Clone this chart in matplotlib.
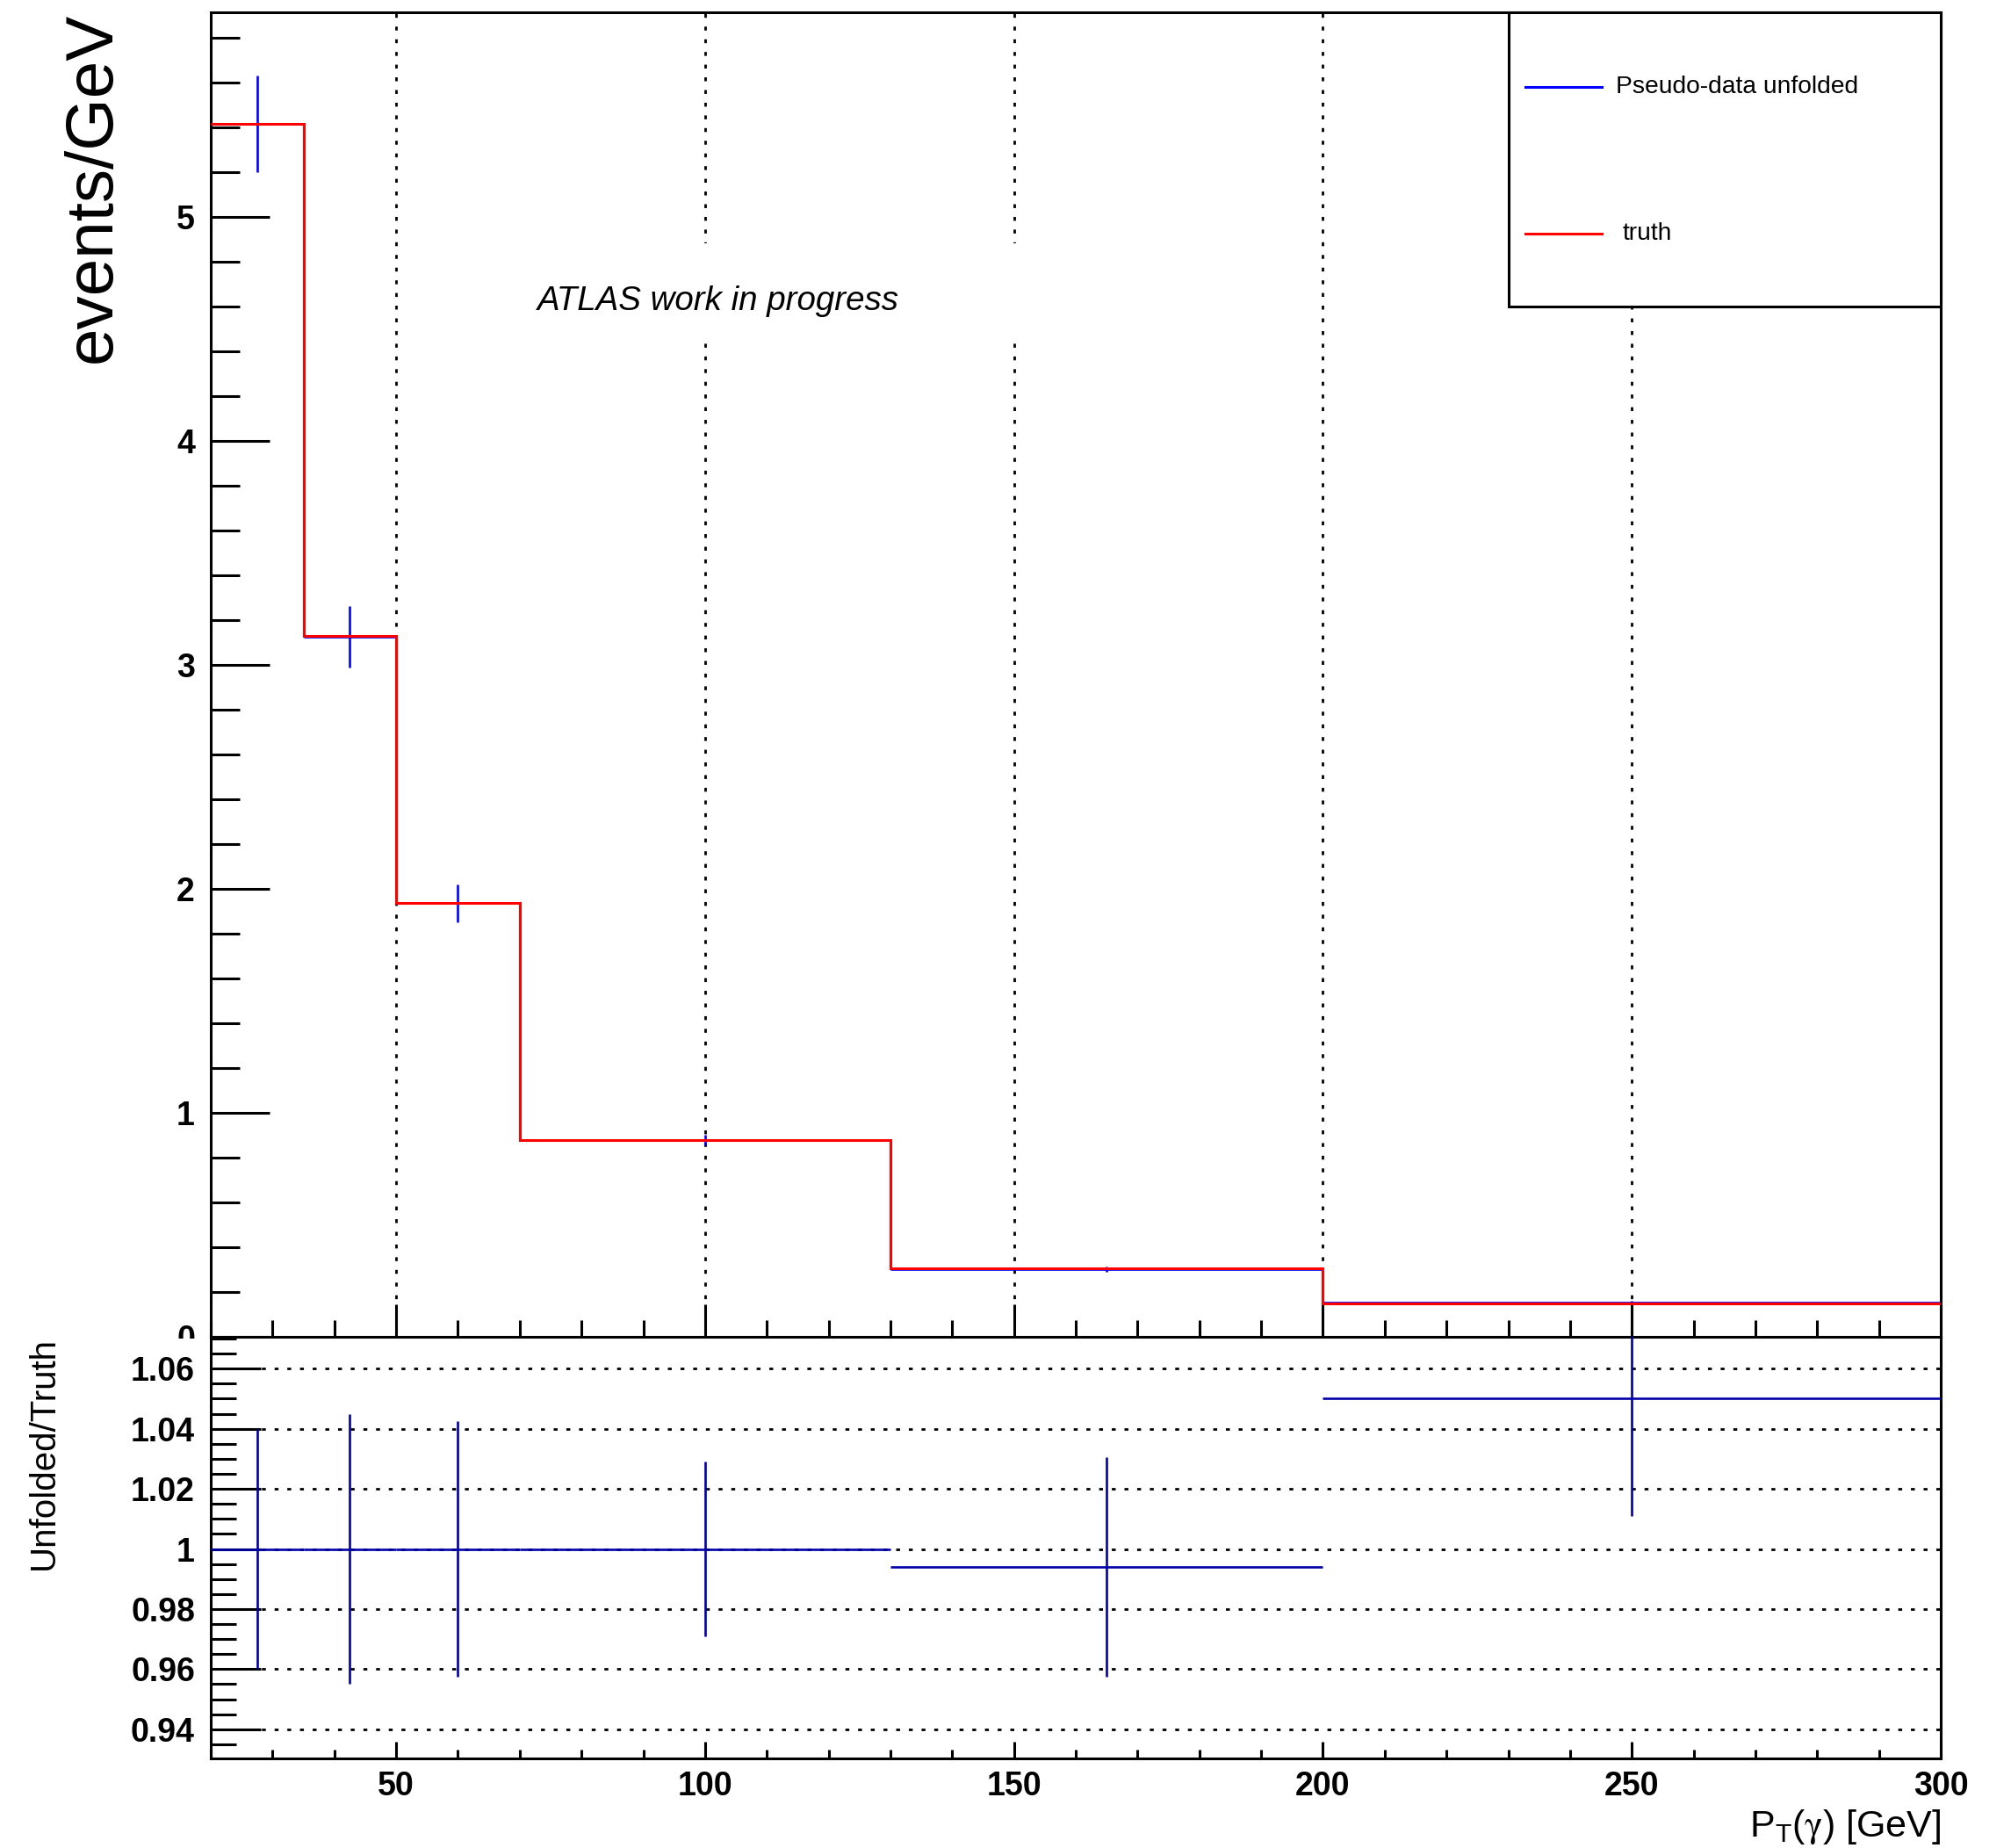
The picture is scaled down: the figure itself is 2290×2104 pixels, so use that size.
import matplotlib
matplotlib.use("Agg")
import matplotlib.pyplot as plt
import numpy as np
from matplotlib.patches import Rectangle
from matplotlib.lines import Line2D
from matplotlib.ticker import MultipleLocator, FormatStrFormatter

plt.rcParams["font.family"] = ["Liberation Sans", "DejaVu Sans"]
plt.rcParams["mathtext.fontset"] = "custom"
plt.rcParams["mathtext.rm"] = "Liberation Sans"
plt.rcParams["mathtext.sf"] = "STIXGeneral"

# binning in pT(gamma) [GeV]
edges = np.array([20, 35, 50, 70, 130, 200, 300])

# events/GeV
truth = [5.416, 3.128, 1.938, 0.879, 0.305, 0.148]
unfolded = [5.416, 3.126, 1.936, 0.879, 0.303, 0.155]
unfolded_err = [0.215, 0.139, 0.083, 0.024, 0.011, 0.006]

# unfolded / truth
ratio = [1.0, 1.0, 1.0, 1.0, 0.994, 1.050]
ratio_err = [0.040, 0.045, 0.0425, 0.029, 0.0365, 0.039]

centers = (edges[:-1] + edges[1:]) / 2
half = (edges[1:] - edges[:-1]) / 2

dotted = (0, (1.6, 3.6))
lw = 2.2

fig = plt.figure(figsize=(22.9, 21.04), dpi=100)
ax = fig.add_axes([0.1048, 0.2766, 0.8603, 0.7167])
rax = fig.add_axes([0.1048, 0.0485, 0.8603, 0.2281])

# ---- top panel
ax.errorbar(centers, unfolded, xerr=half, yerr=unfolded_err, fmt="none",
            ecolor="blue", elinewidth=1.9, zorder=2)
ax.stairs(truth, edges, baseline=None, color="red", linewidth=lw, zorder=3)

ax.set_xlim(20, 300)
ax.set_ylim(0, 5.914)
ax.xaxis.set_major_locator(MultipleLocator(50))
ax.xaxis.set_minor_locator(MultipleLocator(10))
ax.yaxis.set_major_locator(MultipleLocator(1))
ax.yaxis.set_minor_locator(MultipleLocator(0.2))
ax.grid(axis="x", which="major", color="black", linestyle=dotted, linewidth=2.0)

ax.tick_params(which="both", direction="in", top=False, right=False,
               labelbottom=False, width=lw, labelsize=27, pad=13)
ax.tick_params(axis="y", which="major", length=48)
ax.tick_params(axis="y", which="minor", length=24)
ax.tick_params(axis="x", which="major", length=27)
ax.tick_params(axis="x", which="minor", length=14)
plt.setp(ax.get_yticklabels(), fontweight="bold")
for s in ax.spines.values():
    s.set_linewidth(lw)

ax.set_ylabel("events/GeV", fontsize=55, loc="top")
ax.yaxis.set_label_coords(-0.050, 1.0)

# white box behind the label text
ax.add_patch(Rectangle((0.162, 0.750), 0.346, 0.0756, transform=ax.transAxes,
                       facecolor="white", edgecolor="none", zorder=1.8))
ax.text(0.1888, 0.7752, "ATLAS work in progress", transform=ax.transAxes,
        fontsize=27.7, style="italic", va="baseline", ha="left", zorder=5)

# legend box
ax.add_patch(Rectangle((0.75, 0.778), 0.25, 0.222, transform=ax.transAxes,
                       facecolor="white", edgecolor="black", linewidth=lw,
                       zorder=6, clip_on=False))
ax.add_line(Line2D([0.7599, 0.8041], [0.9436, 0.9436], transform=ax.transAxes,
                   color="blue", linewidth=lw, zorder=7))
ax.add_line(Line2D([0.7599, 0.8041], [0.8329, 0.8329], transform=ax.transAxes,
                   color="red", linewidth=lw, zorder=7))
ax.text(0.8122, 0.9436, "Pseudo-data unfolded", transform=ax.transAxes,
        fontsize=20.3, va="center", ha="left", zorder=7)
ax.text(0.8162, 0.8329, "truth", transform=ax.transAxes,
        fontsize=20.3, va="center", ha="left", zorder=7)

# ---- ratio panel
rax.errorbar(centers, ratio, xerr=half, yerr=ratio_err, fmt="none",
             ecolor="#0000a8", elinewidth=1.9, zorder=3)
rax.set_xlim(20, 300)
rax.set_ylim(0.9303, 1.0706)
rax.xaxis.set_major_locator(MultipleLocator(50))
rax.xaxis.set_minor_locator(MultipleLocator(10))
rax.yaxis.set_major_locator(MultipleLocator(0.02))
rax.yaxis.set_minor_locator(MultipleLocator(0.005))
rax.yaxis.set_major_formatter(FormatStrFormatter("%g"))
rax.grid(axis="y", which="major", color="black", linestyle=dotted, linewidth=2.0)

rax.tick_params(which="both", direction="in", top=False, right=False,
                width=lw, labelsize=27)
rax.tick_params(axis="y", which="major", length=41, pad=13)
rax.tick_params(axis="y", which="minor", length=21)
rax.tick_params(axis="x", which="major", length=14, pad=10)
rax.tick_params(axis="x", which="minor", length=7)
plt.setp(rax.get_yticklabels(), fontweight="bold")
plt.setp(rax.get_xticklabels(), fontweight="bold")
for s in rax.spines.values():
    s.set_linewidth(lw)

rax.set_ylabel("Unfolded/Truth", fontsize=29, loc="top")
rax.yaxis.set_label_coords(-0.087, 1.0)
rax.set_xlabel(r"P$_{\mathregular{T}}$($\mathsf{\gamma}$) [GeV]", fontsize=31, loc="right")
rax.xaxis.label.set_va("baseline")
rax.xaxis.set_label_coords(1.0, -0.1854)

# lower pad hides the lower half of the top panel's "0"
fig.add_artist(Rectangle((100 / 2290, (2104 - 1541) / 2104), 138 / 2290, 17 / 2104,
                         transform=fig.transFigure, facecolor="white",
                         edgecolor="none", zorder=1))

fig.savefig("out.png", dpi=100)
